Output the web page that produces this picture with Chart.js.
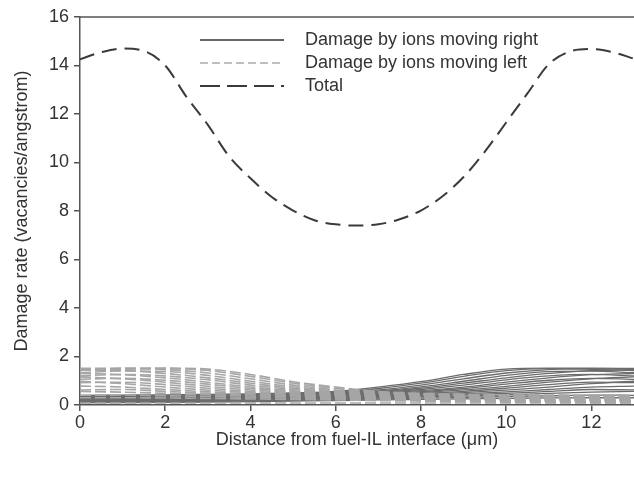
<!DOCTYPE html>
<html><head><meta charset="utf-8">
<script src="https://cdn.jsdelivr.net/npm/chart.js@4.4.1/dist/chart.umd.min.js"></script>
<style>html,body{margin:0;padding:0;background:#fff}#wrap{width:634px;height:477px}</style>
</head><body><div id="wrap"><canvas id="c" width="634" height="477"></canvas></div>
<script>
// ---- data ----
const xTicks = [0, 2, 4, 6, 8, 10, 12];
const yTicks = [0, 2, 4, 6, 8, 10, 12, 14, 16];

const totalX = [0,0.5,1,1.5,2,2.5,3,3.5,4,4.5,5,5.5,6,6.5,7,7.5,8,8.5,9,9.5,10,10.5,11,11.5,12,12.5,13];
const totalDamage = [14.26,14.55,14.70,14.60,14.00,12.70,11.55,10.25,9.35,8.58,8.02,7.62,7.45,7.40,7.45,7.66,8.02,8.60,9.40,10.45,11.65,12.85,14.05,14.58,14.68,14.55,14.28];

const ionX = [0,1,2,3,4,5,6,7,8,9,10,11,12,13];

const rightMovingIons = [
  [0.40,0.41,0.42,0.44,0.46,0.50,0.56,0.74,0.96,1.26,1.48,1.52,1.52,1.51],
  [0.37,0.38,0.39,0.41,0.44,0.48,0.53,0.68,0.90,1.18,1.42,1.50,1.47,1.42],
  [0.35,0.36,0.37,0.39,0.42,0.46,0.51,0.62,0.82,1.08,1.32,1.46,1.50,1.47],
  [0.33,0.34,0.35,0.37,0.40,0.44,0.49,0.58,0.75,0.98,1.22,1.38,1.40,1.33],
  [0.31,0.32,0.33,0.35,0.38,0.42,0.47,0.55,0.69,0.90,1.12,1.30,1.42,1.44],
  [0.29,0.30,0.31,0.33,0.36,0.40,0.45,0.52,0.64,0.82,1.04,1.20,1.26,1.20],
  [0.27,0.28,0.29,0.31,0.34,0.37,0.42,0.49,0.59,0.74,0.94,1.12,1.25,1.30],
  [0.25,0.26,0.27,0.29,0.32,0.35,0.40,0.46,0.55,0.68,0.86,1.02,1.10,1.06],
  [0.23,0.24,0.25,0.27,0.30,0.33,0.38,0.43,0.51,0.62,0.77,0.94,1.08,1.16],
  [0.21,0.22,0.23,0.25,0.28,0.31,0.35,0.40,0.47,0.56,0.69,0.84,0.94,0.92],
  [0.19,0.20,0.21,0.23,0.26,0.29,0.33,0.38,0.44,0.51,0.61,0.74,0.88,0.98],
  [0.17,0.18,0.19,0.21,0.24,0.27,0.31,0.35,0.40,0.46,0.54,0.64,0.74,0.78],
  [0.15,0.16,0.17,0.19,0.22,0.25,0.28,0.32,0.37,0.42,0.48,0.56,0.64,0.62],
  [0.13,0.14,0.15,0.17,0.20,0.22,0.25,0.29,0.33,0.37,0.42,0.48,0.53,0.56],
  [0.11,0.12,0.13,0.15,0.17,0.19,0.22,0.25,0.28,0.31,0.35,0.38,0.41,0.40],
  [0.09,0.10,0.11,0.12,0.14,0.16,0.18,0.21,0.23,0.25,0.27,0.29,0.30,0.30]
];

const leftMovingIons = [
  [1.51,1.52,1.52,1.48,1.26,0.96,0.74,0.56,0.48,0.44,0.42,0.41,0.40,0.40],
  [1.42,1.47,1.50,1.42,1.18,0.90,0.68,0.53,0.46,0.42,0.40,0.38,0.37,0.37],
  [1.47,1.50,1.46,1.32,1.08,0.82,0.62,0.51,0.44,0.40,0.38,0.36,0.35,0.35],
  [1.33,1.40,1.38,1.22,0.98,0.75,0.58,0.49,0.42,0.38,0.36,0.34,0.33,0.33],
  [1.44,1.42,1.30,1.12,0.90,0.69,0.55,0.47,0.40,0.36,0.34,0.32,0.31,0.31],
  [1.20,1.26,1.20,1.04,0.82,0.64,0.52,0.45,0.38,0.34,0.32,0.30,0.29,0.29],
  [1.30,1.25,1.12,0.94,0.74,0.59,0.49,0.42,0.36,0.32,0.30,0.28,0.27,0.27],
  [1.06,1.10,1.02,0.86,0.68,0.55,0.46,0.40,0.34,0.30,0.28,0.26,0.25,0.25],
  [1.16,1.08,0.94,0.77,0.62,0.51,0.43,0.38,0.32,0.28,0.26,0.24,0.23,0.23],
  [0.92,0.94,0.84,0.69,0.56,0.47,0.40,0.35,0.30,0.26,0.24,0.22,0.21,0.21],
  [0.98,0.88,0.74,0.61,0.51,0.44,0.38,0.33,0.28,0.24,0.22,0.20,0.19,0.19],
  [0.78,0.74,0.64,0.54,0.46,0.40,0.35,0.31,0.26,0.22,0.20,0.18,0.17,0.17],
  [0.62,0.64,0.56,0.48,0.42,0.37,0.32,0.28,0.24,0.20,0.18,0.16,0.15,0.15],
  [0.56,0.53,0.48,0.42,0.37,0.33,0.29,0.25,0.22,0.18,0.16,0.14,0.13,0.13],
  [0.40,0.41,0.38,0.35,0.31,0.28,0.25,0.22,0.19,0.16,0.14,0.12,0.11,0.11],
  [0.30,0.30,0.29,0.27,0.25,0.23,0.21,0.18,0.16,0.14,0.12,0.11,0.10,0.09],
  [0.08,0.08,0.08,0.08,0.08,0.08,0.08,0.08,0.08,0.08,0.08,0.08,0.08,0.08]
];

const legendLabels = ['Damage by ions moving right', 'Damage by ions moving left', 'Total'];
const axisTitleX = 'Distance from fuel-IL interface (\u03bcm)';
const axisTitleY = 'Damage rate (vacancies/angstrom)';

// ---- chart ----
const FONT = 'Liberation Sans, Arial, sans-serif';
const AXIS = '#555';
const toPts = (xs, ys) => ys.map((y, i) => ({x: xs[i], y}));

const datasets = [];
datasets.push({
  label: legendLabels[2], data: toPts(totalX, totalDamage),
  borderColor: '#3a3a3a', borderWidth: 2, borderDash: [15, 8],
  pointRadius: 0, cubicInterpolationMode: 'monotone', fill: false, order: 0
});
leftMovingIons.forEach((arr, i) => datasets.push({
  label: legendLabels[1], data: toPts(ionX, arr),
  borderColor: '#a6a6a6', borderWidth: 1.6, borderDash: [11, 4],
  pointRadius: 0, cubicInterpolationMode: 'monotone', fill: false, order: 1
}));
rightMovingIons.forEach((arr, i) => datasets.push({
  label: legendLabels[0], data: toPts(ionX, arr),
  borderColor: '#6c6c6c', borderWidth: 1.3, borderDash: [],
  pointRadius: 0, cubicInterpolationMode: 'monotone', fill: false, order: 2
}));

const framePlugin = {
  id: 'frame',
  afterDraw(chart) {
    const {ctx, chartArea: a} = chart;
    ctx.save();
    ctx.strokeStyle = AXIS; ctx.lineWidth = 1.5;
    ctx.beginPath(); ctx.moveTo(a.left, a.top); ctx.lineTo(a.right, a.top); ctx.stroke();
    // legend
    const rows = [
      {y: 40, color: '#333', w: 1.5, dash: []},
      {y: 63, color: '#ababab', w: 1.5, dash: [8, 4]},
      {y: 86, color: '#3a3a3a', w: 2, dash: [20, 7]}
    ];
    ctx.font = '18px ' + FONT;
    ctx.textBaseline = 'middle';
    ctx.fillStyle = '#333';
    rows.forEach((r, i) => {
      ctx.strokeStyle = r.color; ctx.lineWidth = r.w; ctx.setLineDash(r.dash);
      ctx.beginPath(); ctx.moveTo(200, r.y); ctx.lineTo(284, r.y); ctx.stroke();
      ctx.setLineDash([]);
      ctx.fillText(legendLabels[i], 305, r.y);
    });
    ctx.restore();
  }
};

new Chart(document.getElementById('c'), {
  type: 'line',
  data: {datasets},
  options: {
    responsive: false, animation: false,
    layout: {padding: {top: 17, right: 0, left: 0, bottom: 0}},
    plugins: {legend: {display: false}, tooltip: {enabled: false}},
    scales: {
      x: {
        type: 'linear', min: 0, max: 13,
        afterBuildTicks: s => { s.ticks = xTicks.map(v => ({value: v})); },
        afterFit: s => { s.height = 72; },
        grid: {display: true, drawOnChartArea: false, drawTicks: true, tickLength: 6, color: AXIS, lineWidth: 1.5},
        border: {display: true, color: AXIS, width: 1.5},
        ticks: {color: '#333', font: {size: 18, family: FONT}, padding: 1, maxRotation: 0, autoSkip: false},
        title: {display: true, text: axisTitleX, color: '#333', font: {size: 18, family: FONT}, padding: {top: 26, bottom: 26}}
      },
      y: {
        type: 'linear', min: 0, max: 16,
        afterBuildTicks: s => { s.ticks = yTicks.map(v => ({value: v})); },
        afterFit: s => { s.width = 80; },
        grid: {display: true, drawOnChartArea: false, drawTicks: true, tickLength: 6, color: AXIS, lineWidth: 1.5},
        border: {display: true, color: AXIS, width: 1.5},
        ticks: {color: '#333', font: {size: 18, family: FONT}, padding: 5},
        title: {display: true, text: axisTitleY, color: '#333', font: {size: 18, family: FONT}, padding: {top: 11, bottom: 11}}
      }
    }
  },
  plugins: [framePlugin]
});
</script></body></html>
